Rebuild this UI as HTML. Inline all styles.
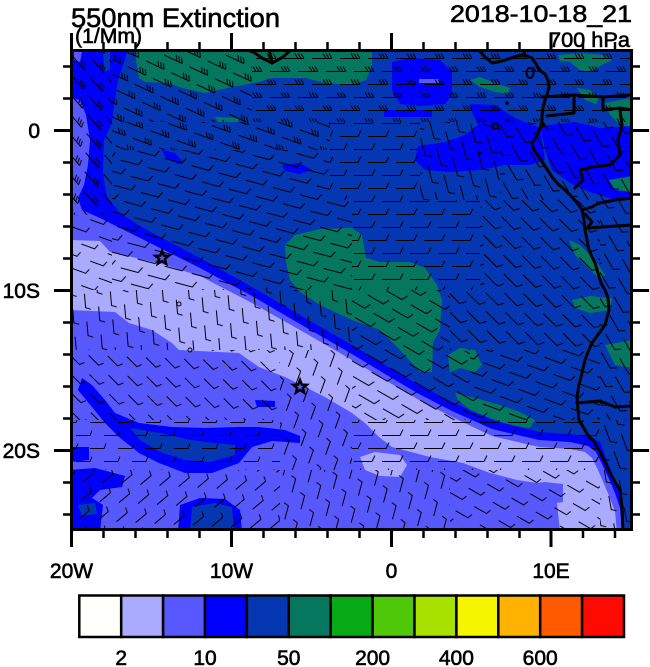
<!DOCTYPE html>
<html><head><meta charset="utf-8"><style>
html,body{margin:0;padding:0;background:#fff;}
svg{display:block;}
text{font-family:"Liberation Sans",Arial,sans-serif;fill:#000;stroke:#000;stroke-width:0.6;}
</style></head><body>
<svg width="650" height="667" viewBox="0 0 650 667" xmlns="http://www.w3.org/2000/svg">
<defs>
<clipPath id="mc"><rect x="71.5" y="50.5" width="560" height="479"/></clipPath>
<path id="bE" d="M-10,0.5H10M10,0.5l-3,-5M7,0.5l-3,-5M4,0.5l-3,-5"/>
<path id="bH" d="M-10,0.5H8l3,-6"/>
<path id="bS" d="M-8,0.5H6l2,-5"/>
<pattern id="pE0" width="28" height="26" patternUnits="userSpaceOnUse"><g stroke="#000" fill="none"><use href="#bE" x="14" y="6"/><use href="#bE" x="0" y="19"/><use href="#bE" x="28" y="19"/></g></pattern>
<pattern id="pE25" width="28" height="26" patternUnits="userSpaceOnUse" patternTransform="rotate(25)"><g stroke="#000" fill="none"><use href="#bE" x="14" y="6"/><use href="#bE" x="0" y="19"/><use href="#bE" x="28" y="19"/></g></pattern>
<pattern id="pE50" width="28" height="26" patternUnits="userSpaceOnUse" patternTransform="rotate(50)"><g stroke="#000" fill="none"><use href="#bE" x="14" y="6"/><use href="#bE" x="0" y="19"/><use href="#bE" x="28" y="19"/></g></pattern>
<pattern id="pE20" width="28" height="26" patternUnits="userSpaceOnUse" patternTransform="rotate(20)"><g stroke="#000" fill="none"><use href="#bE" x="14" y="6"/><use href="#bE" x="0" y="19"/><use href="#bE" x="28" y="19"/></g></pattern>
<pattern id="pH0" width="28" height="26" patternUnits="userSpaceOnUse"><g stroke="#000" fill="none"><use href="#bH" x="14" y="6"/><use href="#bH" x="0" y="19"/><use href="#bH" x="28" y="19"/></g></pattern>
<pattern id="pH15" width="28" height="26" patternUnits="userSpaceOnUse" patternTransform="rotate(15)"><g stroke="#000" fill="none"><use href="#bH" x="14" y="6"/><use href="#bH" x="0" y="19"/><use href="#bH" x="28" y="19"/></g></pattern>
<pattern id="pH75" width="28" height="26" patternUnits="userSpaceOnUse" patternTransform="rotate(75)"><g stroke="#000" fill="none"><use href="#bH" x="14" y="6"/><use href="#bH" x="0" y="19"/><use href="#bH" x="28" y="19"/></g></pattern>
<pattern id="pH60" width="28" height="26" patternUnits="userSpaceOnUse" patternTransform="rotate(60)"><g stroke="#000" fill="none"><use href="#bH" x="14" y="6"/><use href="#bH" x="0" y="19"/><use href="#bH" x="28" y="19"/></g></pattern>
<pattern id="pH45" width="28" height="26" patternUnits="userSpaceOnUse" patternTransform="rotate(45)"><g stroke="#000" fill="none"><use href="#bH" x="14" y="6"/><use href="#bH" x="0" y="19"/><use href="#bH" x="28" y="19"/></g></pattern>
<pattern id="pH30" width="28" height="26" patternUnits="userSpaceOnUse" patternTransform="rotate(30)"><g stroke="#000" fill="none"><use href="#bH" x="14" y="6"/><use href="#bH" x="0" y="19"/><use href="#bH" x="28" y="19"/></g></pattern>
<pattern id="pH20" width="28" height="26" patternUnits="userSpaceOnUse" patternTransform="rotate(20)"><g stroke="#000" fill="none"><use href="#bH" x="14" y="6"/><use href="#bH" x="0" y="19"/><use href="#bH" x="28" y="19"/></g></pattern>
<pattern id="pH70" width="28" height="26" patternUnits="userSpaceOnUse" patternTransform="rotate(70)"><g stroke="#000" fill="none"><use href="#bH" x="14" y="6"/><use href="#bH" x="0" y="19"/><use href="#bH" x="28" y="19"/></g></pattern>
<pattern id="pS20" width="28" height="26" patternUnits="userSpaceOnUse" patternTransform="rotate(20)"><g stroke="#000" fill="none"><use href="#bS" x="14" y="6"/><use href="#bS" x="0" y="19"/><use href="#bS" x="28" y="19"/></g></pattern>
<pattern id="pS85" width="28" height="26" patternUnits="userSpaceOnUse" patternTransform="rotate(85)"><g stroke="#000" fill="none"><use href="#bS" x="14" y="6"/><use href="#bS" x="0" y="19"/><use href="#bS" x="28" y="19"/></g></pattern>
<pattern id="pS45" width="28" height="26" patternUnits="userSpaceOnUse" patternTransform="rotate(45)"><g stroke="#000" fill="none"><use href="#bS" x="14" y="6"/><use href="#bS" x="0" y="19"/><use href="#bS" x="28" y="19"/></g></pattern>
<pattern id="pSm70" width="28" height="26" patternUnits="userSpaceOnUse" patternTransform="rotate(-70)"><g stroke="#000" fill="none"><use href="#bS" x="14" y="6"/><use href="#bS" x="0" y="19"/><use href="#bS" x="28" y="19"/></g></pattern>
<pattern id="pS0" width="28" height="26" patternUnits="userSpaceOnUse"><g stroke="#000" fill="none"><use href="#bS" x="14" y="6"/><use href="#bS" x="0" y="19"/><use href="#bS" x="28" y="19"/></g></pattern>
<pattern id="pSm40" width="28" height="26" patternUnits="userSpaceOnUse" patternTransform="rotate(-40)"><g stroke="#000" fill="none"><use href="#bS" x="14" y="6"/><use href="#bS" x="0" y="19"/><use href="#bS" x="28" y="19"/></g></pattern>
<pattern id="pSm75" width="28" height="26" patternUnits="userSpaceOnUse" patternTransform="rotate(-75)"><g stroke="#000" fill="none"><use href="#bS" x="14" y="6"/><use href="#bS" x="0" y="19"/><use href="#bS" x="28" y="19"/></g></pattern>
<pattern id="pS30" width="28" height="26" patternUnits="userSpaceOnUse" patternTransform="rotate(30)"><g stroke="#000" fill="none"><use href="#bS" x="14" y="6"/><use href="#bS" x="0" y="19"/><use href="#bS" x="28" y="19"/></g></pattern>
<pattern id="pS80" width="28" height="26" patternUnits="userSpaceOnUse" patternTransform="rotate(80)"><g stroke="#000" fill="none"><use href="#bS" x="14" y="6"/><use href="#bS" x="0" y="19"/><use href="#bS" x="28" y="19"/></g></pattern>
<path id="star" d="M0,-7L1.76,-2.43L6.66,-2.16L2.85,0.93L4.11,5.66L0,3L-4.11,5.66L-2.85,0.93L-6.66,-2.16L-1.76,-2.43Z"/>
</defs>

<rect width="650" height="667" fill="#fff"/>

<g clip-path="url(#mc)">
<rect x="70" y="48" width="565" height="485" fill="#0637B3"/>
<!-- top teal -->
<polygon fill="#06775F" points="134,48 372,48 372,65 366,80 352,85 325,83 305,78 272,78 259,82 232,87 219,90 205,93 182,88 169,83 145,82 139,78"/>
<!-- north teal patches -->
<polygon fill="#06775F" points="470,80 480,77 495,83 510,88 508,94 495,92 480,87"/>
<polygon fill="#06775F" points="558,55 580,53 605,55 612,60 600,66 590,72 580,70 570,62 560,61"/>
<polygon fill="#06775F" points="577,88 590,90 599,98 596,104 585,100"/>
<polygon fill="#06775F" points="605,103 620,100 632,98 632,127 620,125 610,115"/>
<polygon fill="#06775F" points="215,117 239,118 238,122 218,122"/>
<!-- north blue patches -->
<polygon fill="#0000FF" points="392,62 410,58 440,60 452,72 452,95 445,104 420,106 400,104 392,90"/>
<rect x="419" y="79" width="20" height="4" fill="#5858FF"/>
<polygon fill="#0000FF" points="384,110 432,110 432,117 384,117"/>
<polygon fill="#0000FF" points="470,104 495,105 515,118 540,128 545,160 530,165 505,165 480,170 450,172 425,170 415,160 418,146 445,142 465,135 478,125 472,112"/>
<polygon fill="#0000FF" points="540,126 575,122 600,128 632,126 632,196 612,199 590,192 570,183 552,170 545,150"/>
<polygon fill="#0000FF" points="162,150 175,153 183,162 178,164 165,157"/>
<polygon fill="#0000FF" points="282,165 300,163 312,170 300,174 285,171"/>
<!-- more teal -->
<polygon fill="#06775F" points="609,180 632,176 632,192 615,190"/>
<polygon fill="#06775F" points="569,240 580,245 595,260 605,275 600,279 588,268 575,255"/>
<polygon fill="#06775F" points="572,300 590,296 612,298 610,310 590,313 575,308"/>
<polygon fill="#06775F" points="605,345 632,340 632,368 615,365"/>
<!-- big teal blob -->
<polygon fill="#06775F" points="285,245 295,235 320,229 352,228 362,235 366,258 380,262 410,262 425,268 437,285 442,300 440,330 433,342 432,372 420,372 400,350 380,330 352,320 320,305 300,292 290,280 286,262"/>
<polygon fill="#06775F" points="448,355 460,348 475,350 482,365 475,372 460,368 450,372"/>
<polygon fill="#06775F" points="455,393 475,398 500,405 520,412 535,420 530,428 510,425 490,418 470,410 458,400"/>

<!-- SW blue region incl. left strip -->
<polygon fill="#0000FF" points="70,48 128,48 125,60 118,80 114,105 112,123 104,140 103,173 107,197 120,213 140,226 162,238 200,258 252,287 300,315 352,345 385,365 419,385 452,402 492,420 539,432 570,434 590,437 600,442 606,458 613,475 619,490 623,505 624,532 70,532"/>
<!-- small dark intrusion top of strip -->
<polygon fill="#0637B3" points="103,48 110,48 110,70 104,72"/>
<!-- SW medium region -->
<polygon fill="#5858FF" points="70,98 80,100 86,115 90,140 88,165 84,185 78,198 82,210 100,218 120,228 162,249 200,268 252,296 300,324 352,354 385,374 419,394 452,411 492,429 539,440 570,442 588,446 596,452 602,464 609,479 615,493 620,508 622,532 70,532"/>
<polygon fill="#5858FF" points="74,52 82,52 80,62 74,60"/>
<!-- lavender -->
<polygon fill="#AAAAFF" points="70,240 100,241 110,252 162,264 200,276 252,303 300,330 352,360 385,380 419,400 452,417 492,436 539,447 570,449 585,452 592,458 598,470 604,484 610,498 615,512 617,532 560,532 557,503 563,502 563,484 545,482 537,483 517,480 490,473 463,463 430,457 392,447 379,437 365,423 352,413 325,397 305,387 285,377 259,367 239,353 179,350 172,343 152,330 129,323 115,312 70,310"/>
<polygon fill="#AAAAFF" points="360,457 375,452 400,455 407,465 400,477 380,476 365,470"/>
<!-- SW streak -->
<polygon fill="#0000FF" points="82,378 92,385 105,400 115,413 139,423 172,427 205,428 239,427 259,427 285,430 300,436 300,443 272,441 252,447 239,463 212,473 185,473 159,463 139,453 119,437 105,423 92,407 78,390"/>
<polygon fill="#0637B3" points="130,428 160,433 190,440 215,443 235,445 235,455 210,462 185,460 160,452 140,440"/>
<!-- bottom blobs -->
<polygon fill="#0000FF" points="70,447 89,447 89,460 70,462"/>
<polygon fill="#0000FF" points="70,470 95,468 125,476 122,487 100,490 92,498 103,505 100,532 70,532"/>
<polygon fill="#0637B3" points="78,505 95,503 97,514 82,516"/>
<polygon fill="#0000FF" points="180,505 200,498 225,499 240,510 242,532 178,532"/>
<polygon fill="#0637B3" points="192,507 215,503 232,507 234,532 190,532"/>
<polygon fill="#0000FF" points="255,400 275,401 275,407 257,407"/>

<!-- wind barbs -->
<g shape-rendering="crispEdges">
<rect x="112" y="50" width="140" height="72" fill="url(#pE25)"/>
<rect x="252" y="50" width="380" height="72" fill="url(#pE0)"/>
<rect x="72" y="50" width="40" height="165" fill="url(#pE50)"/>
<rect x="112" y="122" width="218" height="28" fill="url(#pE20)"/>
<rect x="112" y="150" width="218" height="50" fill="url(#pH15)"/>
<rect x="330" y="122" width="90" height="78" fill="url(#pH0)"/>
<rect x="420" y="122" width="80" height="78" fill="url(#pH75)"/>
<rect x="500" y="122" width="132" height="78" fill="url(#pH60)"/>
<rect x="72" y="215" width="40" height="75" fill="url(#pS20)"/>
<rect x="112" y="200" width="240" height="90" fill="url(#pH15)"/>
<rect x="352" y="200" width="128" height="90" fill="url(#pH0)"/>
<rect x="480" y="200" width="120" height="90" fill="url(#pH45)"/>
<rect x="600" y="200" width="32" height="90" fill="url(#pH60)"/>
<rect x="72" y="290" width="280" height="60" fill="url(#pS85)"/>
<rect x="352" y="290" width="98" height="60" fill="url(#pH30)"/>
<rect x="450" y="290" width="150" height="60" fill="url(#pH45)"/>
<rect x="600" y="290" width="32" height="60" fill="url(#pH60)"/>
<rect x="72" y="350" width="208" height="70" fill="url(#pS45)"/>
<rect x="280" y="350" width="72" height="70" fill="url(#pSm70)"/>
<rect x="352" y="350" width="118" height="70" fill="url(#pH30)"/>
<rect x="470" y="350" width="130" height="70" fill="url(#pH20)"/>
<rect x="600" y="350" width="32" height="70" fill="url(#pH60)"/>
<rect x="72" y="420" width="208" height="50" fill="url(#pS0)"/>
<rect x="280" y="420" width="72" height="50" fill="url(#pSm70)"/>
<rect x="352" y="420" width="248" height="50" fill="url(#pH0)"/>
<rect x="600" y="420" width="32" height="50" fill="url(#pH70)"/>
<rect x="72" y="470" width="208" height="60" fill="url(#pSm40)"/>
<rect x="280" y="470" width="170" height="60" fill="url(#pSm75)"/>
<rect x="450" y="470" width="150" height="60" fill="url(#pS30)"/>
<rect x="600" y="470" width="32" height="60" fill="url(#pS80)"/>
</g>

<!-- coastline and borders -->
<g fill="none" stroke="#000" stroke-width="3" stroke-linejoin="round" stroke-linecap="round">
<polyline points="479,50 484,56 492,63 498,62 505,60 514,57 522,55 527,56 532,58 536,64 539,70 545,74 548,80 549,87 547,95 545,100 543,108 542,116 542,122 540,128 537,135 532,143 534,150 539,157 545,166 552,177 558,184 565,190 572,197 578,204 582,210 584,220 585,230 587,240 589,250 592,257 595,263 598,273 601,283 605,290 608,298 609,310 605,325 597,336 592,343 588,352 585,360 582,373 579,385 577,397 578,410 579,420 585,430 589,437 593,440 600,452 605,462 610,473 615,482 620,490 622,507 623,531"/>
<polyline points="249,49 262,58 272,63 283,57 292,49"/>
<polyline points="269,49 272,63"/>
<polyline points="523,49 525,55"/>
<polyline points="542,97 574,95 603,97 632,95"/>
<polyline points="574,95 574,113 547,116"/>
<polyline points="603,97 603,110 620,108 632,110"/>
<polyline points="620,110 622,125 618,140 620,155 610,165 592,167 580,170 583,180 575,188"/>
<polyline points="582,210 592,207 599,203 605,202 615,200 632,198"/>
<polyline points="585,214 592,222 587,228 632,225"/>
<polyline points="577,403 600,401 615,407 632,406"/>
</g>
<g fill="none" stroke="#000" stroke-width="2">
<ellipse cx="530" cy="73" rx="3.5" ry="5"/>
<ellipse cx="495" cy="126" rx="3" ry="2.5"/>
<circle cx="179" cy="304" r="2" stroke-width="1"/>
<circle cx="190" cy="350" r="2" stroke-width="1"/>
</g>
<circle cx="507" cy="103" r="1.8" fill="#000"/>
<circle cx="480" cy="153" r="1.8" fill="#000"/>
<circle cx="543" cy="125" r="2.5" fill="#000"/>
<use href="#star" x="162" y="258" fill="none" stroke="#000" stroke-width="2.5"/>
<use href="#star" x="300" y="387" fill="none" stroke="#000" stroke-width="2.5"/>
</g>

<!-- frame -->
<rect x="71.5" y="50.5" width="560" height="479" fill="none" stroke="#000" stroke-width="3"/>

<!-- ticks -->
<g stroke="#000" stroke-width="3">
<path d="M54,130.5H71.5M54,290.5H71.5M54,450.5H71.5"/>
<path d="M631.5,130.5H649M631.5,290.5H649M631.5,450.5H649"/>
<path d="M71.5,33V50.5M231.5,33V50.5M391.5,33V50.5M551,33V50.5"/>
<path d="M71.5,529.5V547M231.5,529.5V547M391.5,529.5V547M551,529.5V547"/>
</g>
<g stroke="#000" stroke-width="2.5">
<path d="M63,66.5H71.5M63,98.5H71.5M63,162.5H71.5M63,194.5H71.5M63,226.5H71.5M63,258.5H71.5M63,322.5H71.5M63,354.5H71.5M63,386.5H71.5M63,418.5H71.5M63,482.5H71.5M63,514.5H71.5"/>
<path d="M631.5,66.5H640M631.5,98.5H640M631.5,162.5H640M631.5,194.5H640M631.5,226.5H640M631.5,258.5H640M631.5,322.5H640M631.5,354.5H640M631.5,386.5H640M631.5,418.5H640M631.5,482.5H640M631.5,514.5H640"/>
<path d="M103.5,42V50.5M135.5,42V50.5M167.5,42V50.5M199.5,42V50.5M263.5,42V50.5M295.5,42V50.5M327.5,42V50.5M359.5,42V50.5M423.5,42V50.5M455.5,42V50.5M487.5,42V50.5M519.5,42V50.5M583,42V50.5M615,42V50.5"/>
<path d="M103.5,529.5V538M135.5,529.5V538M167.5,529.5V538M199.5,529.5V538M263.5,529.5V538M295.5,529.5V538M327.5,529.5V538M359.5,529.5V538M423.5,529.5V538M455.5,529.5V538M487.5,529.5V538M519.5,529.5V538M583,529.5V538M615,529.5V538"/>
</g>

<!-- titles -->
<text x="71" y="27" font-size="27" textLength="209" lengthAdjust="spacingAndGlyphs">550nm Extinction</text>
<text x="75" y="43" font-size="21" textLength="67" lengthAdjust="spacingAndGlyphs">(1/Mm)</text>
<text x="450" y="22" font-size="24.5" textLength="182" lengthAdjust="spacingAndGlyphs">2018-10-18_21</text>
<text x="549" y="47" font-size="21" textLength="81" lengthAdjust="spacingAndGlyphs">700 hPa</text>

<!-- axis labels -->
<g font-size="21" text-anchor="end">
<text x="40" y="138">0</text>
<text x="40" y="298">10S</text>
<text x="40" y="458">20S</text>
</g>
<g font-size="21" text-anchor="middle">
<text x="71.5" y="578">20W</text>
<text x="231.5" y="578">10W</text>
<text x="391.5" y="578">0</text>
<text x="551" y="578">10E</text>
</g>

<!-- colorbar -->
<g stroke="#000" stroke-width="2.5">
<rect x="79.3" y="595.5" width="41.9" height="41.5" fill="#FFFFFC"/>
<rect x="121.2" y="595.5" width="41.9" height="41.5" fill="#AAAAFF"/>
<rect x="163.1" y="595.5" width="41.9" height="41.5" fill="#5858FF"/>
<rect x="205" y="595.5" width="41.9" height="41.5" fill="#0000FF"/>
<rect x="246.9" y="595.5" width="41.9" height="41.5" fill="#0637B3"/>
<rect x="288.8" y="595.5" width="41.9" height="41.5" fill="#06775F"/>
<rect x="330.7" y="595.5" width="41.9" height="41.5" fill="#06AA14"/>
<rect x="372.6" y="595.5" width="41.9" height="41.5" fill="#50C80A"/>
<rect x="414.5" y="595.5" width="41.9" height="41.5" fill="#A6E100"/>
<rect x="456.4" y="595.5" width="41.9" height="41.5" fill="#F5F500"/>
<rect x="498.3" y="595.5" width="41.9" height="41.5" fill="#FFB200"/>
<rect x="540.2" y="595.5" width="41.9" height="41.5" fill="#FF5A00"/>
<rect x="582.1" y="595.5" width="41.9" height="41.5" fill="#FF0A00"/>
</g>
<g font-size="21" text-anchor="middle">
<text x="121.2" y="665">2</text>
<text x="205" y="665">10</text>
<text x="288.8" y="665">50</text>
<text x="372.6" y="665">200</text>
<text x="456.4" y="665">400</text>
<text x="540.2" y="665">600</text>
</g>
</svg>
</body></html>
